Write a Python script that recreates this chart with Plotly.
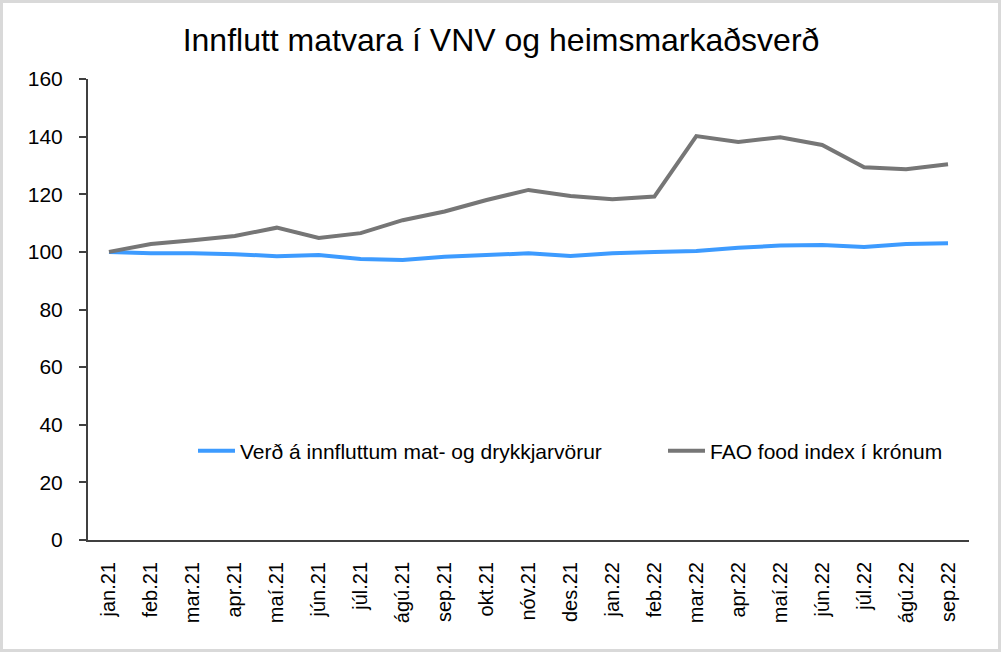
import plotly.graph_objects as go

months = ["jan.21", "feb.21", "mar.21", "apr.21", "maí.21", "jún.21", "júl.21", "ágú.21",
          "sep.21", "okt.21", "nóv.21", "des.21", "jan.22", "feb.22", "mar.22", "apr.22",
          "maí.22", "jún.22", "júl.22", "ágú.22", "sep.22"]
vnv = [100.0, 99.5, 99.5, 99.2, 98.5, 98.9, 97.5, 97.2, 98.3, 98.9, 99.5,
       98.6, 99.5, 100.0, 100.3, 101.4, 102.2, 102.4, 101.7, 102.7, 103.0]
fao = [100.0, 102.7, 104.0, 105.5, 108.4, 104.8, 106.5, 111.0, 114.0, 118.0, 121.5,
       119.4, 118.3, 119.2, 140.2, 138.1, 139.8, 137.1, 129.4, 128.7, 130.4]
name_vnv = "Verð á innfluttum mat- og drykkjarvörur"
name_fao = "FAO food index í krónum"
title_text = "Innflutt matvara í VNV og heimsmarkaðsverð"

W, H = 1002, 653
L, R, T, B = 88, 33, 79, 113
PW, PH = W - L - R, H - T - B

def px(x):
    return (x - L) / PW

def py(y):
    return 1 - (y - T) / PH

FONT = "Liberation Sans, Arial, sans-serif"

fig = go.Figure()
fig.add_trace(go.Scatter(x=months, y=vnv, mode="lines", name=name_vnv, showlegend=True,
                         line=dict(color="#3d9bff", width=4), legend="legend"))
fig.add_trace(go.Scatter(x=months, y=fao, mode="lines", name=name_fao, showlegend=True,
                         line=dict(color="#767676", width=4), legend="legend2"))

leg_common = dict(orientation="h", yanchor="middle", xanchor="left",
                  bgcolor="rgba(0,0,0,0)", font=dict(family=FONT, size=21, color="#000"),
                  itemwidth=37, visible=True)
fig.update_layout(
    width=W, height=H,
    showlegend=True,
    margin=dict(l=L, r=R, t=T, b=B),
    paper_bgcolor="white", plot_bgcolor="white",
    font=dict(family=FONT, color="#000"),
    title=dict(text=title_text, x=0.5, xref="container", xanchor="center",
               y=1 - 40 / H, yref="container", yanchor="middle",
               font=dict(family=FONT, size=32, color="#000")),
    legend=dict(x=px(193), y=py(451), **leg_common),
    legend2=dict(x=px(663), y=py(451), **leg_common),
    xaxis=dict(type="category", tickangle=-90, showgrid=False, ticks="",
               range=[-0.5, len(months) - 0.5],
               showline=True, linecolor="#404040", linewidth=2,
               tickfont=dict(family=FONT, size=20, color="#000"),
               ticklabelstandoff=12),
    yaxis=dict(range=[0, 160], dtick=20, showgrid=False, zeroline=False,
               showline=True, linecolor="#404040", linewidth=2,
               ticks="outside", ticklen=7, tickcolor="#404040", tickwidth=2,
               tickfont=dict(family=FONT, size=21, color="#000"),
               ticklabelstandoff=12),
    shapes=[dict(type="rect", xref="paper", yref="paper",
                 x0=px(1.5), x1=px(999.5), y0=py(650.5), y1=py(1.5),
                 line=dict(color="#d9d9d9", width=3), layer="below")],
)

fig.write_html("out.html")
